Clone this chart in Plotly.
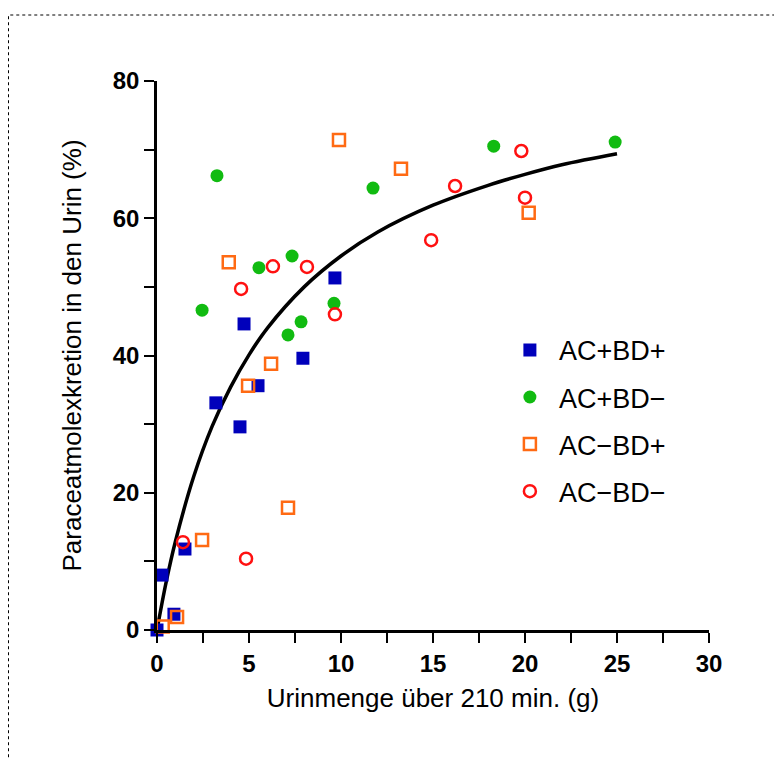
import plotly.graph_objects as go

# ---- data ----
acp_bdp_x = [0.0, 0.27, 0.92, 1.52, 3.2, 4.73, 4.51, 5.49, 7.93, 9.67]
acp_bdp_y = [0.0, 8.0, 2.3, 11.8, 33.1, 44.6, 29.6, 35.6, 39.6, 51.3]

acp_bdm_x = [3.26, 2.45, 5.54, 7.34, 7.12, 7.83, 9.62, 11.74, 18.3, 24.9]
acp_bdm_y = [66.2, 46.6, 52.8, 54.5, 43.0, 44.9, 47.6, 64.4, 70.5, 71.1]

acm_bdp_x = [0.31, 1.09, 2.45, 7.12, 3.9, 4.95, 6.2, 9.89, 13.26, 20.2]
acm_bdp_y = [0.5, 1.9, 13.1, 17.8, 53.6, 35.6, 38.8, 71.4, 67.2, 60.8]

acm_bdm_x = [1.41, 4.84, 4.57, 6.3, 8.15, 9.67, 14.9, 16.2, 19.8, 20.0]
acm_bdm_y = [12.8, 10.4, 49.7, 53.0, 52.9, 46.0, 56.8, 64.7, 69.8, 63.0]

# fitted curve
curve_x = [0, 0.5, 1, 2, 3, 4, 5, 6, 8, 10, 12, 15, 18, 20, 22, 25]
curve_y = [0, 7.0, 12.9, 22.4, 29.7, 35.4, 40.1, 44.0, 50.0, 54.5, 58.0, 61.9, 64.8, 66.4, 67.8, 69.4]

x_ticks = [0, 5, 10, 15, 20, 25, 30]
y_ticks = [0, 20, 40, 60, 80]

names = ["AC+BD+", "AC+BD\u2212", "AC\u2212BD+", "AC\u2212BD\u2212"]

FONT = "Arial, Liberation Sans, sans-serif"

fig = go.Figure()

fig.add_trace(go.Scatter(x=curve_x, y=curve_y, mode="lines", line=dict(color="black", width=3.5, shape="spline"),
                         showlegend=False, hoverinfo="skip", cliponaxis=False))

fig.add_trace(go.Scatter(x=acp_bdp_x, y=acp_bdp_y, mode="markers", name=names[0], legendgroup="a",
                         marker=dict(symbol="square", size=13, color="#0000BB", line=dict(width=0)),
                         cliponaxis=False))
fig.add_trace(go.Scatter(x=acp_bdm_x, y=acp_bdm_y, mode="markers", name=names[1], legendgroup="b",
                         marker=dict(symbol="circle", size=13, color="#11BB11", line=dict(width=0)),
                         cliponaxis=False))
fig.add_trace(go.Scatter(x=acm_bdp_x, y=acm_bdp_y, mode="markers", name=names[2], legendgroup="c",
                         marker=dict(symbol="square-open", size=12, color="#FF6A13", line=dict(width=2.5, color="#FF6A13")),
                         cliponaxis=False))
fig.add_trace(go.Scatter(x=acm_bdm_x, y=acm_bdm_y, mode="markers", name=names[3], legendgroup="d",
                         marker=dict(symbol="circle-open", size=12, color="#FF1111", line=dict(width=2.5, color="#FF1111")),
                         cliponaxis=False))

fig.update_layout(
    width=782, height=760,
    margin=dict(l=149, r=81, t=73, b=138),
    plot_bgcolor="white", paper_bgcolor="white",
    font=dict(family=FONT, color="black", size=26),
    showlegend=True,
    legend=dict(x=0.623, y=0.554, xanchor="left", yanchor="top", font=dict(size=27, family=FONT),
                tracegroupgap=9, bgcolor="rgba(0,0,0,0)", itemwidth=48),
    xaxis=dict(range=[0, 30], tickvals=x_ticks, ticktext=["<b>%d</b>" % v for v in x_ticks],
               showgrid=False, zeroline=False, showline=True, linecolor="black", linewidth=2.5,
               ticks="outside", ticklen=10, tickwidth=2, tickcolor="black",
               tickfont=dict(size=24, family=FONT),
               minor=dict(dtick=2.5, tick0=0, ticks="outside", ticklen=10, tickwidth=2, tickcolor="black"),
               title=dict(text="Urinmenge über 210 min. (g)", font=dict(size=26, family=FONT), standoff=14)),
    yaxis=dict(range=[0, 80], tickvals=y_ticks, ticktext=["<b>%d</b>" % v for v in y_ticks],
               showgrid=False, zeroline=False, showline=True, linecolor="black", linewidth=2.5,
               ticks="outside", ticklen=10, tickwidth=2, tickcolor="black",
               tickfont=dict(size=24, family=FONT),
               minor=dict(dtick=10, tick0=0, ticks="outside", ticklen=10, tickwidth=2, tickcolor="black"),
               title=dict(text="Paraceatmolexkretion in den Urin (%)", font=dict(size=26, family=FONT), standoff=24)),
    shapes=[dict(type="rect", xref="paper", yref="paper", x0=-0.2690, x1=1.3, y0=-0.4, y1=1.1202,
                 line=dict(color="black", width=1, dash="dot"), fillcolor="rgba(0,0,0,0)", layer="below")],
)

fig.write_html("out.html")
